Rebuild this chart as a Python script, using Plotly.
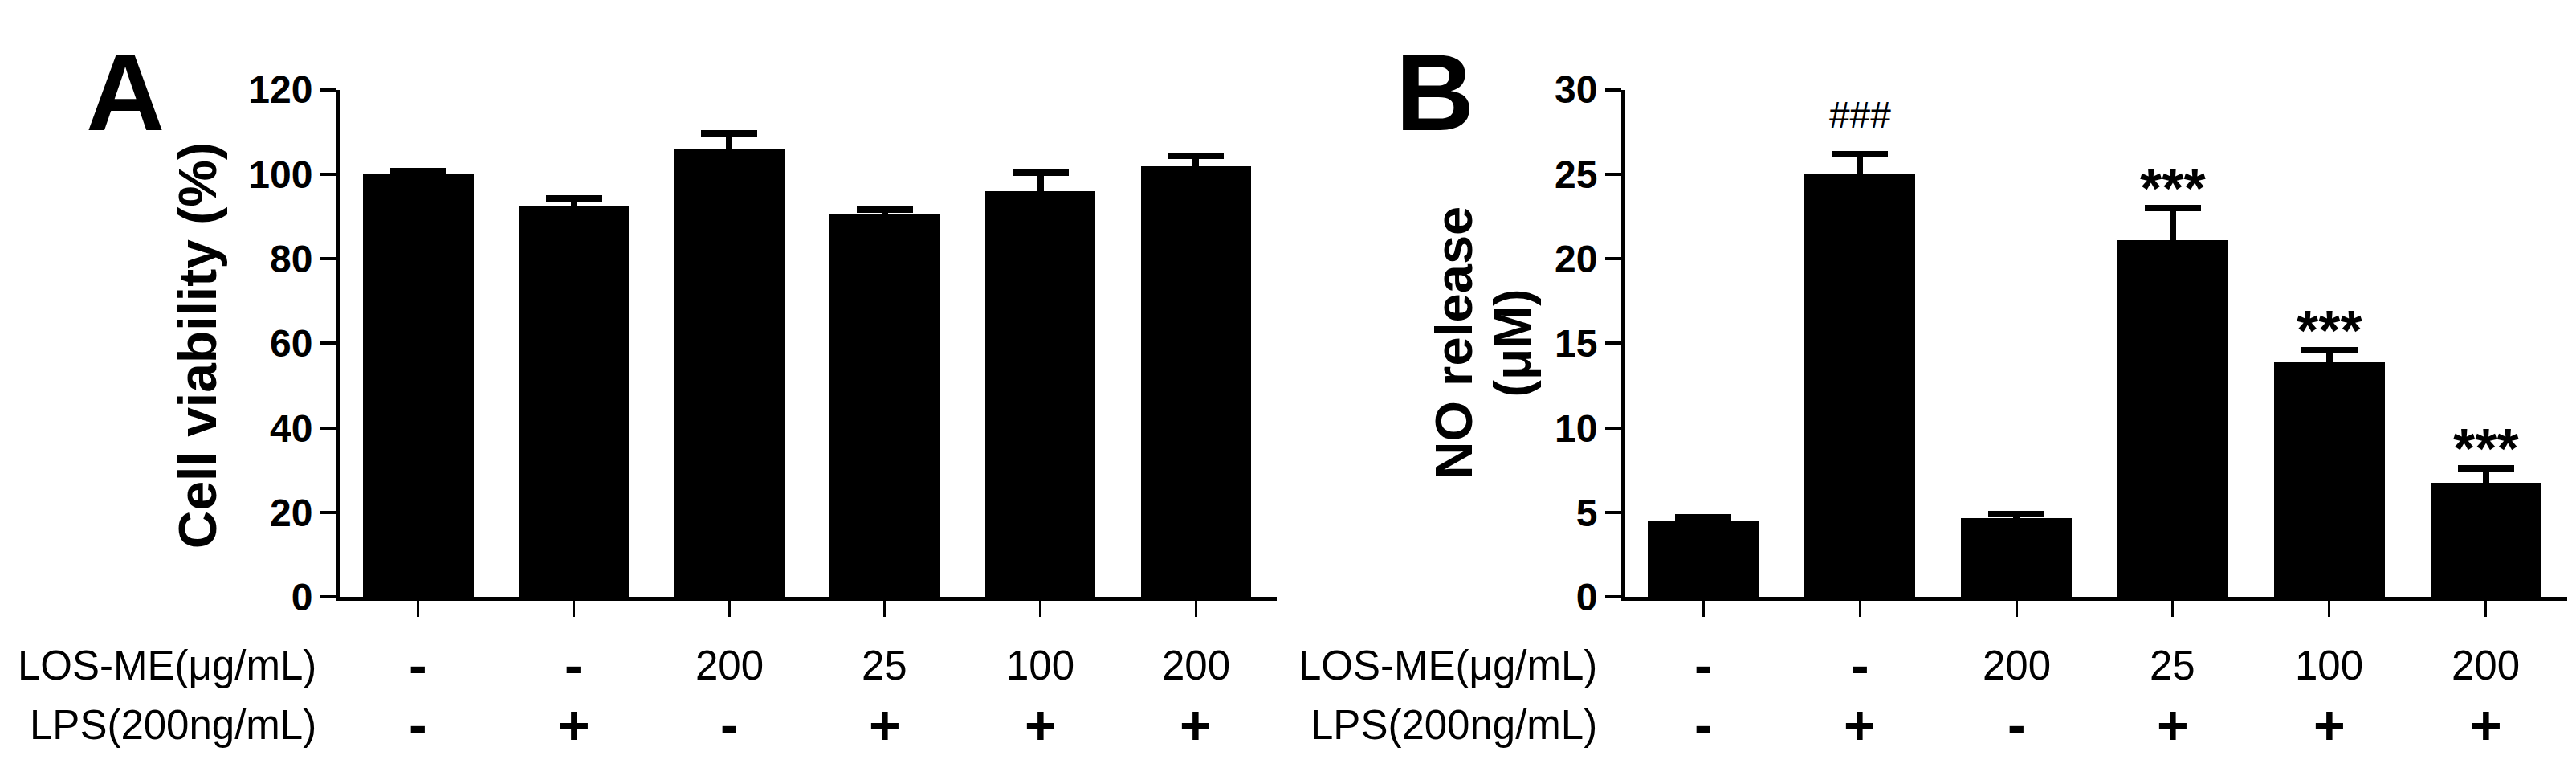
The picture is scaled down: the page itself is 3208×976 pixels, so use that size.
import plotly.graph_objects as go

# treatment table under both panels
los_me = ["-", "-", "200", "25", "100", "200"]
lps = ["-", "+", "-", "+", "+", "+"]
row_labels = ["LOS-ME(μg/mL)", "LPS(200ng/mL)"]

# panel A: cell viability (%)
viability = [100.0, 92.5, 106.0, 90.5, 96.0, 102.0]
viability_sem = [0.7, 1.8, 3.7, 1.2, 4.3, 2.3]
viability_ticks = [0, 20, 40, 60, 80, 100, 120]

# panel B: NO release (uM)
no_release = [4.5, 25.0, 4.7, 21.1, 13.9, 6.8]
no_release_sem = [0.2, 1.2, 0.2, 1.9, 0.7, 0.8]
no_marks = ["", "###", "", "***", "***", "***"]
no_ticks = [0, 5, 10, 15, 20, 25, 30]

W, H = 3208, 976
FONT = "Liberation Sans, Arial, Helvetica, sans-serif"
groups = list(range(len(los_me)))


def px(x):
    return x / W


def py(y):
    return 1 - y / H


def add_bars(fig, values, errors, xaxis, yaxis):
    fig.add_trace(go.Bar(
        x=groups,
        y=values,
        width=0.71,
        marker=dict(color="black", line=dict(width=0)),
        error_y=dict(type="data", array=errors, visible=True,
                     color="black", thickness=8, width=35),
        xaxis=xaxis,
        yaxis=yaxis,
        showlegend=False,
        hoverinfo="skip"))


def y_axis(domain_x, ticks):
    return dict(
        domain=[py(750), py(82)],
        range=[0, ticks[-1]],
        tickvals=ticks,
        ticks="outside",
        ticklen=20,
        tickwidth=4,
        tickcolor="black",
        showline=True,
        linewidth=5,
        linecolor="black",
        showgrid=False,
        zeroline=False,
        tickfont=dict(family=FONT, size=48, color="black", weight="bold"),
        anchor=domain_x,
    )


def x_axis(domain, yname):
    return dict(
        domain=domain,
        range=[-0.5, 5.52],
        tickvals=groups,
        ticks="outside",
        ticklen=20,
        tickwidth=3,
        tickcolor="black",
        showticklabels=False,
        showline=True,
        linewidth=5,
        linecolor="black",
        showgrid=False,
        zeroline=False,
        anchor=yname,
    )


fig = go.Figure()
add_bars(fig, viability, viability_sem, "x", "y")
add_bars(fig, no_release, no_release_sem, "x2", "y2")

annotations = []

# panel letters
for letter, cx in (("A", 148), ("B", 1779)):
    annotations.append(dict(
        text=letter, x=px(cx), y=py(86), xref="paper", yref="paper",
        xanchor="center", yanchor="middle", showarrow=False,
        font=dict(family=FONT, size=136, color="black", weight="bold")))

# y axis titles
annotations.append(dict(
    text="Cell viability (%)", x=px(238), y=py(419), xref="paper", yref="paper",
    xanchor="center", yanchor="middle", textangle=-90, showarrow=False,
    font=dict(family=FONT, size=66, color="black", weight="bold")))
annotations.append(dict(
    text="NO release", x=px(1802), y=py(415), xref="paper", yref="paper",
    xanchor="center", yanchor="middle", textangle=-90, showarrow=False,
    font=dict(family=FONT, size=65, color="black", weight="bold")))
annotations.append(dict(
    text="(μM)", x=px(1876), y=py(416), xref="paper", yref="paper",
    xanchor="center", yanchor="middle", textangle=-90, showarrow=False,
    font=dict(family=FONT, size=64, color="black", weight="bold")))

# significance marks
for i, mark in enumerate(no_marks):
    if not mark:
        continue
    bold = mark.startswith("*")
    annotations.append(dict(
        text=mark, x=i, y=no_release[i] + no_release_sem[i], xref="x2", yref="y2",
        xanchor="center", yanchor="bottom", showarrow=False,
        yshift=-17 if bold else 21,
        font=dict(family=FONT, size=70 if bold else 46, color="black",
                  weight="bold" if bold else "normal")))

# treatment table
rows_y = [py(840), py(918)]
for xref, label_right in (("x", 388), ("x2", 1983)):
    for row, (label, cells) in enumerate(zip(row_labels, (los_me, lps))):
        annotations.append(dict(
            text=label, x=px(label_right), y=rows_y[row], xref="paper", yref="paper",
            xanchor="right", yanchor="middle", showarrow=False,
            font=dict(family=FONT, size=51, color="black")))
        for i, cell in enumerate(cells):
            sign = cell in ("-", "+")
            annotations.append(dict(
                text=cell, x=i, y=rows_y[row], xref=xref, yref="paper",
                xanchor="center", yanchor="middle", showarrow=False,
                font=dict(family=FONT, size=68 if sign else 51, color="black",
                          weight="bold" if sign else "normal")))

fig.update_layout(
    width=W,
    height=H,
    margin=dict(l=0, r=0, t=0, b=0),
    paper_bgcolor="white",
    plot_bgcolor="white",
    bargap=0,
    xaxis=x_axis([px(416), px(1582)], "y"),
    yaxis=y_axis("x", viability_ticks),
    xaxis2=x_axis([px(2016), px(3189)], "y2"),
    yaxis2=y_axis("x2", no_ticks),
    annotations=annotations,
)

fig.write_html("out.html")
